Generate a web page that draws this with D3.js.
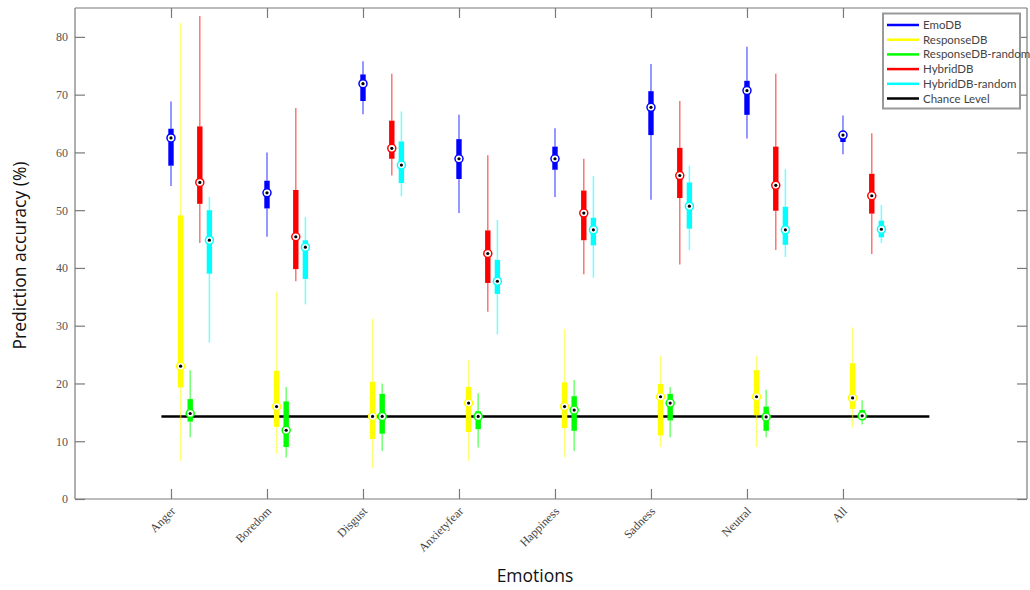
<!DOCTYPE html>
<html>
<head>
<meta charset="utf-8">
<script src="https://cdn.jsdelivr.net/npm/d3@7"></script>
<style>
  body { margin: 0; background: #fff; }
  svg { display: block; }
</style>
</head>
<body>
<svg id="chart" width="1030" height="590"></svg>
<script>
// Emotion categories along the x axis
const categories = ["Anger", "Boredom", "Disgust", "Anxietyfear", "Happiness", "Sadness", "Neutral", "All"];

const seriesNames = ["EmoDB", "ResponseDB", "ResponseDB-random", "HybridDB", "HybridDB-random"];
const seriesColors = ["#0000ff", "#ffff00", "#00ff00", "#ff0000", "#00ffff"];

// Each entry: [whisker low, q1, median, q3, whisker high] in % per category
const emoDB = [
  [54.2, 57.7, 62.5, 64.1, 68.8],
  [45.4, 50.3, 53.0, 55.1, 60.0],
  [66.6, 68.9, 71.9, 73.5, 75.8],
  [49.5, 55.4, 58.9, 62.3, 66.5],
  [52.3, 57.0, 58.9, 61.0, 64.2],
  [51.8, 63.0, 67.8, 70.6, 75.3],
  [62.4, 66.5, 70.7, 72.4, 78.3],
  [59.7, 61.8, 63.0, 63.7, 66.4]
];
const responseDB = [
  [6.6, 19.3, 23.0, 49.1, 82.4],
  [7.8, 12.5, 16.0, 22.2, 35.9],
  [5.4, 10.4, 14.3, 20.3, 31.2],
  [6.6, 11.6, 16.6, 19.4, 24.1],
  [7.2, 12.3, 16.0, 20.2, 29.4],
  [9.0, 11.0, 17.7, 19.9, 24.8],
  [9.0, 14.5, 17.7, 22.3, 24.8],
  [12.4, 15.6, 17.5, 23.5, 29.7]
];
const responseDBRandom = [
  [10.7, 13.4, 14.8, 17.3, 22.3],
  [7.2, 9.0, 11.9, 16.9, 19.4],
  [8.3, 11.3, 14.3, 18.2, 20.0],
  [8.9, 12.1, 14.3, 15.2, 18.3],
  [8.3, 11.8, 15.4, 17.8, 20.6],
  [10.7, 13.6, 16.6, 18.2, 19.4],
  [10.7, 11.8, 14.2, 16.0, 18.9],
  [12.9, 13.9, 14.4, 15.4, 17.1]
];
const hybridDB = [
  [44.3, 51.1, 54.8, 64.5, 83.6],
  [37.7, 39.8, 45.4, 53.5, 67.7],
  [56.0, 58.9, 60.7, 65.5, 73.6],
  [32.4, 37.4, 42.5, 46.5, 59.5],
  [38.9, 44.8, 49.5, 53.4, 58.9],
  [40.6, 52.1, 56.0, 60.8, 68.9],
  [43.1, 49.9, 54.3, 61.0, 73.6],
  [42.4, 49.4, 52.5, 56.3, 63.3]
];
const hybridDBRandom = [
  [27.1, 39.0, 44.8, 50.0, 52.3],
  [33.7, 38.1, 43.6, 44.8, 48.8],
  [52.4, 54.7, 57.8, 61.9, 67.1],
  [28.5, 35.5, 37.7, 41.4, 48.3],
  [38.3, 43.9, 46.6, 48.7, 55.9],
  [43.1, 46.8, 50.7, 54.8, 57.7],
  [41.9, 44.0, 46.6, 50.6, 57.1],
  [44.3, 45.3, 46.7, 48.2, 50.9]
];
const seriesData = [emoDB, responseDB, responseDBRandom, hybridDB, hybridDBRandom];

const chanceLevel = 100 / 7;
const chanceSpan = [0.9, 8.9];

const yTicks = [0, 10, 20, 30, 40, 50, 60, 70, 80];

const svg = d3.select("#chart");
const plot = { left: 75, right: 1027, top: 8, bottom: 499 };

// x is in category units: category i sits at i + 1, series offset by 0.1 each
const x = d3.scaleLinear().domain([0, 9.917]).range([plot.left, plot.right]);
const y = d3.scaleLinear().domain([0, 85]).range([plot.bottom, plot.top]);

const axisColor = "#7a7a7a";
const tickFont = "'Liberation Serif', 'DejaVu Serif', serif";
const labelFont = "'Open Sans', 'Noto Sans', sans-serif";
const legendFont = "Lato, 'Open Sans', sans-serif";

// Axes (ticks pointing inward, mirrored on the opposite sides)
const xTickVals = categories.map((c, i) => i + 1);

const gxBottom = svg.append("g").attr("transform", `translate(0,${plot.bottom})`)
  .call(d3.axisBottom(x).tickValues(xTickVals).tickSize(-10).tickFormat(""));
const gxTop = svg.append("g").attr("transform", `translate(0,${plot.top})`)
  .call(d3.axisTop(x).tickValues(xTickVals).tickSize(-10).tickFormat(""));
const gyLeft = svg.append("g").attr("transform", `translate(${plot.left},0)`)
  .call(d3.axisLeft(y).tickValues(yTicks).tickSize(-10).tickPadding(7).tickFormat(d3.format("d")));
const gyRight = svg.append("g").attr("transform", `translate(${plot.right},0)`)
  .call(d3.axisRight(y).tickValues(yTicks).tickSize(-10).tickFormat(""));

[gxBottom, gxTop, gyLeft, gyRight].forEach(g => {
  g.select(".domain").attr("stroke", axisColor).attr("stroke-width", 1.2);
  g.selectAll(".tick line").attr("stroke", axisColor).attr("stroke-width", 1.2);
});
// keep the outer box edges straight (no end caps)
gxBottom.select(".domain").attr("d", `M${plot.left},0H${plot.right}`);
gxTop.select(".domain").attr("d", `M${plot.left},0H${plot.right}`);
gyLeft.select(".domain").attr("d", `M0,${plot.bottom}V${plot.top}`);
gyRight.select(".domain").attr("d", `M0,${plot.bottom}V${plot.top}`);

gyLeft.selectAll(".tick text")
  .attr("font-family", tickFont).attr("font-size", 12).attr("fill", "#555");

// Rotated category labels
const xLabels = svg.append("g").attr("class", "x-labels");
categories.forEach((c, i) => {
  const px = x(i + 1) + 5, py = plot.bottom + 13;
  xLabels.append("text")
    .attr("transform", `translate(${px},${py}) rotate(-45)`)
    .attr("text-anchor", "end")
    .attr("font-family", tickFont).attr("font-size", 12).attr("fill", "#444")
    .text(c);
});

// Axis titles
svg.append("text")
  .attr("transform", `translate(26,${(plot.top + plot.bottom) / 2 + 2}) rotate(-90)`)
  .attr("text-anchor", "middle")
  .attr("font-family", labelFont).attr("font-size", 17.5).attr("fill", "#111")
  .text("Prediction accuracy (%)");
svg.append("text")
  .attr("x", 535).attr("y", 582)
  .attr("text-anchor", "middle")
  .attr("font-family", labelFont).attr("font-size", 17.5).attr("fill", "#111")
  .text("Emotions");

// Chance level line
svg.append("line")
  .attr("x1", x(chanceSpan[0])).attr("x2", x(chanceSpan[1]))
  .attr("y1", y(chanceLevel)).attr("y2", y(chanceLevel))
  .attr("stroke", "#000").attr("stroke-width", 2.5);

// Box plots
const boxes = svg.append("g").attr("class", "boxes");
seriesData.forEach((series, s) => {
  const color = seriesColors[s];
  const g = boxes.append("g").attr("class", "series-" + s);
  series.forEach((d, i) => {
    const cx = x(i + 1 + s * 0.1);
    const [lo, q1, med, q3, hi] = d;
    // whiskers
    g.append("line")
      .attr("x1", cx).attr("x2", cx).attr("y1", y(hi)).attr("y2", y(q3))
      .attr("stroke", color).attr("stroke-opacity", 0.55).attr("stroke-width", 1.5);
    g.append("line")
      .attr("x1", cx).attr("x2", cx).attr("y1", y(q1)).attr("y2", y(lo))
      .attr("stroke", color).attr("stroke-opacity", 0.55).attr("stroke-width", 1.5);
    // box
    g.append("rect")
      .attr("x", cx - 2.7).attr("width", 5.4)
      .attr("y", y(q3)).attr("height", y(q1) - y(q3))
      .attr("fill", color);
    // median marker
    g.append("circle")
      .attr("cx", cx).attr("cy", y(med)).attr("r", 4)
      .attr("fill", "#fff").attr("stroke", color).attr("stroke-width", 1.5);
    g.append("circle")
      .attr("cx", cx).attr("cy", y(med)).attr("r", 1.6)
      .attr("fill", "#000");
  });
});

// Legend
const legendItems = seriesNames.map((n, i) => ({ name: n, color: seriesColors[i] }))
  .concat([{ name: "Chance Level", color: "#000" }]);
const legend = svg.append("g").attr("class", "legend");
legend.append("rect")
  .attr("x", 883).attr("y", 13.5).attr("width", 137).attr("height", 95)
  .attr("fill", "#fff").attr("stroke", "#999").attr("stroke-width", 2);
legendItems.forEach((item, i) => {
  const ly = 25 + i * 14.7;
  legend.append("line")
    .attr("x1", 887).attr("x2", 919).attr("y1", ly).attr("y2", ly)
    .attr("stroke", item.color).attr("stroke-width", 2.5);
  legend.append("text")
    .attr("x", 923).attr("y", ly + 4)
    .attr("font-family", legendFont).attr("font-size", 11.5).attr("fill", "#444")
    .text(item.name);
});
</script>
</body>
</html>
